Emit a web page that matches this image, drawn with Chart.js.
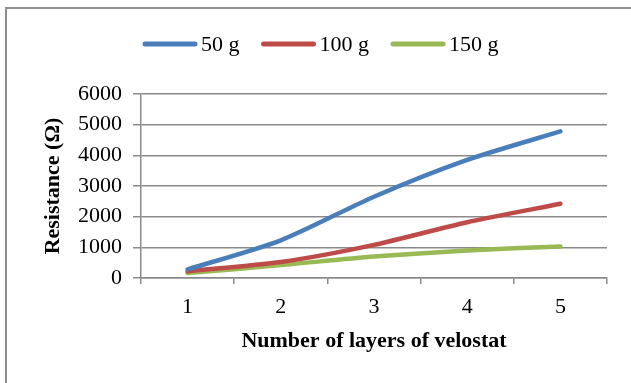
<!DOCTYPE html>
<html>
<head>
<meta charset="utf-8">
<script src="https://cdn.jsdelivr.net/npm/chart.js@4/dist/chart.umd.min.js"></script>
<style>
  html, body { margin: 0; padding: 0; background: #fff; }
  #wrap { width: 631px; height: 383px; position: relative; }
</style>
</head>
<body>
<div id="wrap"><canvas id="c" width="631" height="383"></canvas></div>
<script>
// Resistance of the velostat sensor vs. number of layers, for three loads
const layers = ['1', '2', '3', '4', '5'];
const load50g = [280, 1230, 2650, 3850, 4780];
const load100g = [220, 520, 1080, 1820, 2420];
const load150g = [160, 420, 700, 900, 1030];
const seriesNames = ['50 g', '100 g', '150 g'];
const yTicks = [0, 1000, 2000, 3000, 4000, 5000, 6000];

const SERIF = '"Liberation Serif", "Times New Roman", serif';
const GRID = '#8a8a8a';

// Outer frame around the whole figure
const framePlugin = {
  id: 'frame',
  beforeDraw(chart) {
    const ctx = chart.ctx;
    ctx.save();
    ctx.fillStyle = '#fff';
    ctx.fillRect(0, 0, chart.width, chart.height);
    ctx.strokeStyle = '#8f8f8f';
    ctx.lineWidth = 2;
    ctx.strokeRect(6, 8, chart.width + 20, chart.height + 20);
    ctx.restore();
  }
};

// Single-row legend with line samples, drawn from the dataset list
const legendRow = {
  id: 'legendRow',
  afterDraw(chart) {
    const ctx = chart.ctx;
    ctx.save();
    ctx.font = '22px ' + SERIF;
    ctx.textBaseline = 'middle';
    let x = 143;
    const y = 44;
    chart.data.datasets.forEach(ds => {
      ctx.strokeStyle = ds.borderColor;
      ctx.lineWidth = 5;
      ctx.lineCap = 'round';
      ctx.beginPath();
      ctx.moveTo(x + 2, y);
      ctx.lineTo(x + 52, y);
      ctx.stroke();
      x += 58;
      ctx.fillStyle = '#000';
      ctx.fillText(ds.label, x, y + 1);
      x += ctx.measureText(ds.label).width + 22;
    });
    ctx.restore();
  }
};

const mk = (label, data, color) => ({
  label, data,
  borderColor: color,
  backgroundColor: color,
  borderWidth: 4.5,
  pointRadius: 0,
  pointHoverRadius: 0,
  tension: 0.25,
  borderCapStyle: 'round',
  fill: false
});

new Chart(document.getElementById('c'), {
  type: 'line',
  data: {
    labels: layers,
    datasets: [
      mk(seriesNames[0], load50g, '#4a7ebb'),
      mk(seriesNames[1], load100g, '#be4b48'),
      mk(seriesNames[2], load150g, '#98b954')
    ]
  },
  options: {
    responsive: false,
    animation: false,
    events: [],
    layout: { padding: { top: 94, right: 24, left: 0, bottom: 0 } },
    plugins: {
      legend: { display: false },
      tooltip: { enabled: false }
    },
    scales: {
      x: {
        type: 'category',
        offset: true,
        afterFit(scale) { scale.height = 105; },
        grid: {
          offset: true,
          drawOnChartArea: false,
          drawTicks: true,
          tickLength: 6,
          color: GRID,
          lineWidth: 1.5
        },
        border: { color: GRID, width: 1.5 },
        ticks: {
          color: '#000',
          font: { family: SERIF, size: 22 },
          padding: 10,
          maxRotation: 0
        },
        title: {
          display: true,
          text: 'Number of layers of velostat',
          color: '#000',
          font: { family: SERIF, size: 22, weight: 'bold' },
          padding: { top: 0, bottom: 28 }
        }
      },
      y: {
        min: 0,
        max: 6000,
        afterFit(scale) { scale.width = 141; },
        afterBuildTicks(scale) { scale.ticks = yTicks.map(v => ({ value: v })); },
        grid: {
          drawTicks: true,
          tickLength: 8,
          color: GRID,
          lineWidth: 1.5
        },
        border: { color: GRID, width: 1.5 },
        ticks: {
          color: '#000',
          font: { family: SERIF, size: 22 },
          padding: 11,
          callback: v => String(v)
        },
        title: {
          display: true,
          text: 'Resistance (Ω)',
          color: '#000',
          font: { family: SERIF, size: 22, weight: 'bold' },
          padding: { top: 40, bottom: 0 }
        }
      }
    }
  },
  plugins: [framePlugin, legendRow]
});
</script>
</body>
</html>
